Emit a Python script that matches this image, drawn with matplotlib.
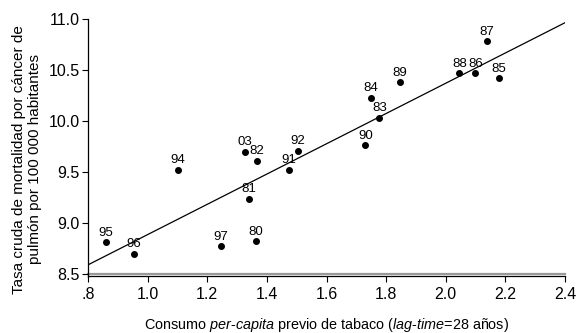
import matplotlib
matplotlib.use("Agg")
import matplotlib.pyplot as plt
import numpy as np

plt.rcParams['font.family'] = ['Liberation Sans', 'DejaVu Sans']
plt.rcParams['mathtext.fontset'] = 'custom'
plt.rcParams['mathtext.rm'] = 'Liberation Sans'
plt.rcParams['mathtext.it'] = 'Liberation Sans:italic'

# year labels, per-capita consumption (lagged), crude lung cancer mortality
years = ['95', '96', '94', '97', '03', '82', '81', '80', '91', '92',
         '90', '83', '84', '89', '88', '86', '87', '85']
consumo = [0.859, 0.955, 1.101, 1.246, 1.327, 1.366, 1.339, 1.364, 1.474, 1.504,
           1.730, 1.777, 1.750, 1.845, 2.046, 2.099, 2.138, 2.179]
tasa = [8.81, 8.70, 9.52, 8.77, 9.70, 9.61, 9.24, 8.82, 9.52, 9.71,
        9.76, 10.03, 10.23, 10.38, 10.47, 10.47, 10.78, 10.42]

xticks = [0.8, 1.0, 1.2, 1.4, 1.6, 1.8, 2.0, 2.2, 2.4]
xticklabels = ['.8', '1.0', '1.2', '1.4', '1.6', '1.8', '2.0', '2.2', '2.4']
yticks = [8.5, 9.0, 9.5, 10.0, 10.5, 11.0]

fig = plt.figure(figsize=(5.77, 3.33), dpi=100)
ax = fig.add_axes([88/577, 1 - 274/333, 477/577, 255/333])

ax.scatter(consumo, tasa, s=16, color='black', zorder=3)
for lab, x, y in zip(years, consumo, tasa):
    ax.annotate(lab, (x, y), xytext=(0, 2.5), textcoords='offset points',
                ha='center', va='bottom', fontsize=9.5)

# least squares line across the whole x range
slope, intercept = np.polyfit(consumo, tasa, 1)
xl = np.array([0.8, 2.4])
ax.plot(xl, intercept + slope * xl, color='black', lw=0.9, zorder=2)

ax.axhline(8.5, color='#999999', lw=1.6, clip_on=False, zorder=1)

ax.set_xlim(0.8, 2.4)
ax.set_ylim(8.5, 11.0)
ax.set_xticks(xticks)
ax.set_xticklabels(xticklabels)
ax.set_yticks(yticks)
ax.set_yticklabels(['%.1f' % v for v in yticks])
ax.tick_params(labelsize=11.5, length=4, width=0.8)
ax.tick_params(axis='x', pad=4)
ax.tick_params(axis='y', pad=2)

ax.spines['top'].set_visible(False)
ax.spines['right'].set_visible(False)
ax.spines['bottom'].set_position(('outward', 1.6))
ax.spines['bottom'].set_linewidth(0.9)
ax.spines['left'].set_linewidth(0.9)
ax.spines['left'].set_bounds(8.475, 11.0)

ax.set_ylabel('Tasa cruda de mortalidad por cáncer de\npulmón por 100 000 habitantes',
              fontsize=11, linespacing=1.2)
ax.yaxis.set_label_coords(-0.097, 0.45)
ax.set_xlabel(r'Consumo $\mathit{per}$-$\mathit{capita}$ previo de tabaco '
              r'($\mathit{lag}$-$\mathit{time}$=28 años)', fontsize=10.4, labelpad=10)

fig.savefig('out.png', dpi=100)
